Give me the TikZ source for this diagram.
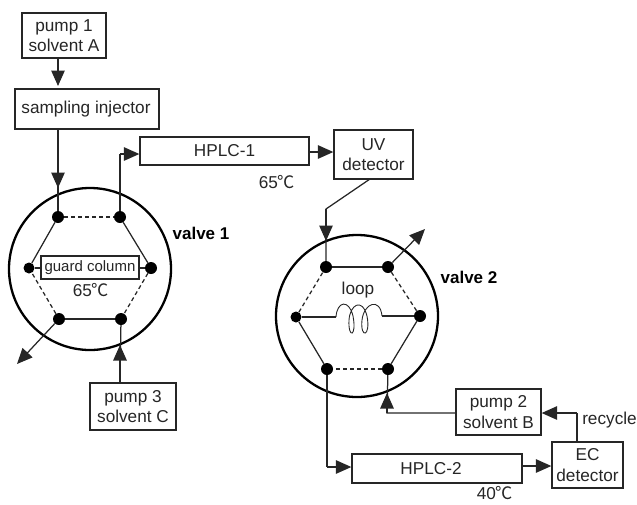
\documentclass[tikz,border=0pt]{standalone}
\usepackage{fontspec}
\setmainfont{Liberation Sans}
\newfontfamily\cjk{Noto Sans CJK SC}
\usetikzlibrary{arrows.meta}
\newcommand{\degC}{{\cjk ℃}}
\tikzset{
  x=1pt,y=-1pt,
  txt/.style={font=\fontsize{17.2}{20.5}\selectfont,align=center,text=black!85,inner sep=0pt},
  box/.style={draw=black!85,line width=1.3pt,fill=white,txt,inner sep=0pt},
  port/.style={circle,fill=black,inner sep=0pt,minimum size=12pt},
  smallport/.style={circle,fill=black,inner sep=0pt,minimum size=11pt},
  wheel/.style={draw=black,line width=2.3pt},
  conn/.style={draw=black!85,line width=1.25pt},
  flow/.style={conn,-{Triangle[length=15.5pt,width=13.5pt]}},
  ghost/.style={conn,dash pattern=on 4pt off 3pt},
  title/.style={txt,font=\fontsize{17}{20}\selectfont\bfseries,text=black},
}
\begin{document}
\begin{tikzpicture}
\useasboundingbox (0,0) rectangle (637,504);
% boxes
\node[box,minimum width=84pt,minimum height=45pt] (p1) at (64,35.5) {pump 1\\solvent A};
\node[box,minimum width=144pt,minimum height=40pt] (inj) at (87,109) {sampling injector\hspace{2pt}};
\node[box,minimum width=169pt,minimum height=28pt] (h1) at (224.5,151) {HPLC-1};
\node[box,minimum width=79pt,minimum height=49pt] (uv) at (373.5,154.5) {UV\\detector};
\node[box,minimum width=86pt,minimum height=47pt] (p3) at (133,406.5) {pump 3\\solvent C};
\node[box,minimum width=85pt,minimum height=46pt] (p2) at (498.5,412) {pump 2\\solvent B};
\node[box,minimum width=170pt,minimum height=29pt] (h2) at (437,468.5) {HPLC-2\hspace{12pt}};
\node[box,minimum width=71pt,minimum height=46pt] (ec) at (587.5,465) {EC\\detector};
% wheels
\node[wheel,circle,minimum size=162pt,inner sep=0pt] (w1) at (90,269) {};
\node[wheel,circle,minimum size=162pt,inner sep=0pt] (w2) at (357,316) {};
% valve 1 ports
\node[port] (a1) at (58,217) {};
\node[port] (a2) at (120,217) {};
\node[port] (a3) at (151,268) {};
\node[port] (a4) at (121,319) {};
\node[port] (a5) at (59,319) {};
\node[smallport] (a6) at (29,268) {};
% valve 2 ports
\node[port] (b1) at (326,267) {};
\node[port] (b2) at (388,267) {};
\node[port] (b3) at (420,316) {};
\node[port] (b4) at (388,369) {};
\node[port] (b5) at (327,369) {};
\node[smallport] (b6) at (296,317) {};
% valve 1 links
\draw[ghost] (a1) -- (a2);
\draw[conn] (a2) -- (a3);
\draw[ghost] (a3) -- (a4);
\draw[conn] (a4) -- (a5);
\draw[ghost] (a5) -- (a6);
\draw[conn] (a6) -- (a1);
\draw[conn] (a6) -- (a3);
\node[box,font=\fontsize{15}{17}\selectfont,minimum width=98pt,minimum height=23pt] (gc) at (90,267.5) {guard column};
\node[txt] (t65a) at (91,290) {65\degC};
% valve 2 links
\draw[conn] (b1) -- (b2);
\draw[ghost] (b2) -- (b3);
\draw[conn] (b3) -- (b4);
\draw[ghost] (b4) -- (b5);
\draw[conn] (b5) -- (b6);
\draw[ghost] (b6) -- (b1);
% loop
\coordinate (c1) at (336,317);
\coordinate (c2) at (382,316);
\draw[conn] (b6) -- (c1);
\draw[conn] (c2) -- (b3);
\draw[draw=black!85,line width=0.9pt] (c1) .. controls (337,301) and (349,299) .. (353,316)
  .. controls (357,337) and (348,339) .. (349,320)
  .. controls (350,305) and (362,297) .. (367,316)
  .. controls (371,337) and (360,339) .. (362,320)
  .. controls (364,303) and (380,297) .. (c2);
\node[txt] (lp) at (358,290) {loop};
% flows
\coordinate (p1out) at (58,58);
\coordinate (injin) at (58,86);
\draw[flow] (p1out) -- (injin);
\coordinate (a1in) at (58,188);
\draw[conn] (inj.south -| a1) -- (a1);
\draw[flow] (inj.south -| a1) -- (a1in);
\coordinate (a2up) at (120,154);
\draw[conn] (a2) -- (a2up);
\draw[flow] (a2up) -- (a2up -| h1.west);
\coordinate (h1e) at (309,152);
\draw[flow] (h1e) -- (h1e -| uv.west);
\coordinate (uvout) at (370,179);
\coordinate (bend2) at (326,209);
\coordinate (b1in) at (326,241);
\draw[conn] (uvout) -- (bend2) -- (b1);
\draw[flow] (bend2) -- (b1in);
\coordinate (aout) at (17,364);
\draw[flow] (a5) -- (aout);
\coordinate (a4in) at (120,345);
\draw[conn] (p3.north -| a4in) -- (a4);
\draw[flow] (p3.north -| a4in) -- (a4in);
\coordinate (bout) at (425,229);
\draw[flow] (b2) -- (bout);
\coordinate (b5d) at (327,467);
\draw[conn] (b5) -- (b5d);
\draw[flow] (b5d) -- (b5d -| h2.west);
\coordinate (h2e) at (522,466);
\draw[flow] (h2e) -- (h2e -| ec.west);
\coordinate (ecup) at (577,413);
\draw[conn] (ec.north -| ecup) -- (ecup);
\draw[flow] (ecup) -- (ecup -| p2.east);
\coordinate (p2l) at (387,413);
\coordinate (b4in) at (387,393);
\draw[conn] (p2.west |- p2l) -- (p2l) -- (b4);
\draw[flow] (p2l) -- (b4in);
% labels
\node[txt] (t65b) at (277,182) {65\degC};
\node[txt] (t40) at (495,493) {40\degC};
\node[title] (v1) at (201,233) {valve 1};
\node[title] (v2) at (469,277) {valve 2};
\node[txt] (rc) at (609.5,420) {recycle};
\end{tikzpicture}
\end{document}
